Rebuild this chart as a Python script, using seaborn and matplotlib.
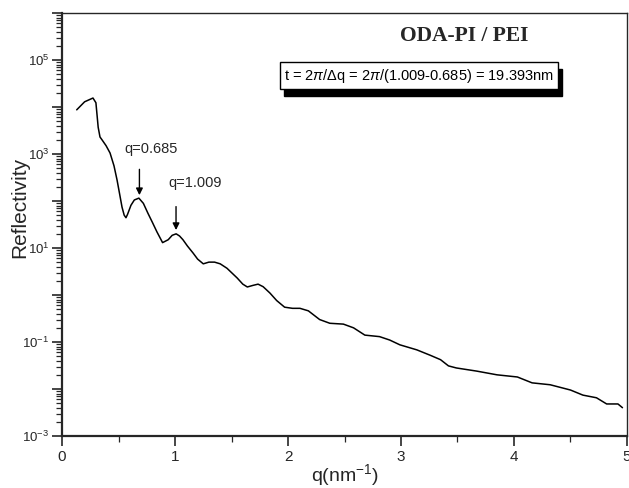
import numpy as np
import pandas as pd
import matplotlib
matplotlib.use("Agg")
import matplotlib.pyplot as plt
import matplotlib.ticker as mticker
from matplotlib.patches import Rectangle
import seaborn as sns

# reflectivity curve
q_values = [0.13, 0.20, 0.274, 0.30, 0.32, 0.336, 0.354, 0.39, 0.425, 0.46,
            0.487, 0.51, 0.531, 0.55, 0.566, 0.58, 0.61, 0.64, 0.68, 0.72,
            0.76, 0.80, 0.84, 0.89, 0.94, 0.975, 1.01, 1.04, 1.07, 1.11,
            1.16, 1.20, 1.25, 1.30, 1.35, 1.40, 1.46, 1.55, 1.60, 1.64,
            1.69, 1.735, 1.78, 1.84, 1.90, 1.97, 2.04, 2.106, 2.18, 2.28,
            2.37, 2.49, 2.58, 2.68, 2.81, 2.90, 2.99, 3.14, 3.26, 3.35,
            3.42, 3.49, 3.67, 3.85, 4.03, 4.16, 4.32, 4.50, 4.61, 4.73,
            4.82, 4.92, 4.96]
reflectivity = [8700, 12900, 15500, 12300, 3700, 2300, 2000, 1500, 1050, 560,
                280, 140, 74, 50, 44, 52, 81, 105, 115, 89,
                55, 35, 22, 13, 15, 18.6, 20, 18, 15, 11,
                7.8, 5.8, 4.6, 5.0, 5.0, 4.6, 3.7, 2.3, 1.7, 1.48,
                1.6, 1.7, 1.5, 1.1, 0.76, 0.55, 0.52, 0.52, 0.46, 0.30,
                0.25, 0.24, 0.20, 0.14, 0.13, 0.11, 0.087, 0.068, 0.052, 0.042,
                0.031, 0.028, 0.024, 0.020, 0.018, 0.0135, 0.0123, 0.0095, 0.0074, 0.0065,
                0.0048, 0.0048, 0.0040]

peak_q = [0.685, 1.009]
peak_labels = ["q=0.685", "q=1.009"]

df = pd.DataFrame({"q": q_values, "R": reflectivity})

sns.set_style("ticks")
plt.rcParams["font.family"] = ["Liberation Sans", "DejaVu Sans"]
plt.rcParams["mathtext.fontset"] = "custom"
plt.rcParams["mathtext.rm"] = "Liberation Sans"
plt.rcParams["mathtext.it"] = "Liberation Sans:italic"

fig = plt.figure(figsize=(6.29, 4.88), dpi=100)
ax = fig.add_axes([0.0986, 0.1066, 0.8982, 0.8668])

sns.lineplot(data=df, x="q", y="R", color="black", linewidth=1.1, ax=ax)

ax.set_yscale("log")
ax.set_xlim(0, 5)
ax.set_ylim(1e-3, 1e6)

# major ticks every decade, labels only on odd exponents
ax.yaxis.set_major_locator(mticker.FixedLocator([10.0 ** k for k in range(-3, 7)]))
ax.yaxis.set_major_formatter(mticker.FuncFormatter(
    lambda v, p: r"$10^{%d}$" % round(np.log10(v)) if round(np.log10(v)) % 2 else ""))
ax.yaxis.set_minor_locator(mticker.LogLocator(base=10, subs=np.arange(2, 10), numticks=20))
ax.yaxis.set_minor_formatter(mticker.NullFormatter())
ax.xaxis.set_major_locator(mticker.MultipleLocator(1))
ax.xaxis.set_minor_locator(mticker.MultipleLocator(0.5))

ax.tick_params(which="major", direction="out", length=7, width=1.2, pad=2)
ax.tick_params(axis="y", which="major", labelsize=9.5)
ax.tick_params(axis="x", which="major", labelsize=11, pad=3)
ax.tick_params(which="minor", direction="out", length=4, width=0.9)
for s in ax.spines.values():
    s.set_linewidth(1.0)
ax.spines["left"].set_linewidth(1.6)
ax.spines["bottom"].set_linewidth(1.6)

ax.set_xlabel(r"q(nm$^{-1}$)", fontsize=14, labelpad=-1)
ax.set_ylabel("Reflectivity", fontsize=15)
ax.yaxis.set_label_coords(-0.058, 0.54)

# peak markers
ax.annotate("", xy=(peak_q[0], 116), xytext=(peak_q[0], 540),
            arrowprops=dict(arrowstyle="-|>", color="black", lw=1.0, mutation_scale=10))
ax.text(0.79, 1290, peak_labels[0], ha="center", va="center", fontsize=10.5)
ax.annotate("", xy=(peak_q[1], 21), xytext=(peak_q[1], 87),
            arrowprops=dict(arrowstyle="-|>", color="black", lw=1.0, mutation_scale=10))
ax.text(1.18, 240, peak_labels[1], ha="center", va="center", fontsize=10.5)

ax.text(0.712, 0.946, "ODA-PI / PEI", transform=ax.transAxes, ha="center", va="center",
        fontsize=15.5, fontweight="bold", family=["Liberation Serif", "DejaVu Serif"])

box_text = r"t = 2$\pi$/$\Delta$q = 2$\pi$/(1.009-0.685) = 19.393nm"
box = ax.text(0.632, 0.852, box_text, transform=ax.transAxes, ha="center", va="center",
              fontsize=10.5, color="black", zorder=4,
              bbox=dict(boxstyle="square,pad=0.3", facecolor="white", edgecolor="black", lw=1.0))

# drop shadow behind the box
fig.canvas.draw()
bb = box.get_bbox_patch().get_window_extent().translated(4, -7)
bb = bb.transformed(ax.transAxes.inverted())
ax.add_patch(Rectangle((bb.x0, bb.y0), bb.width, bb.height, transform=ax.transAxes,
                       facecolor="black", edgecolor="black", zorder=3, clip_on=False))

fig.savefig("out.png", dpi=100)
